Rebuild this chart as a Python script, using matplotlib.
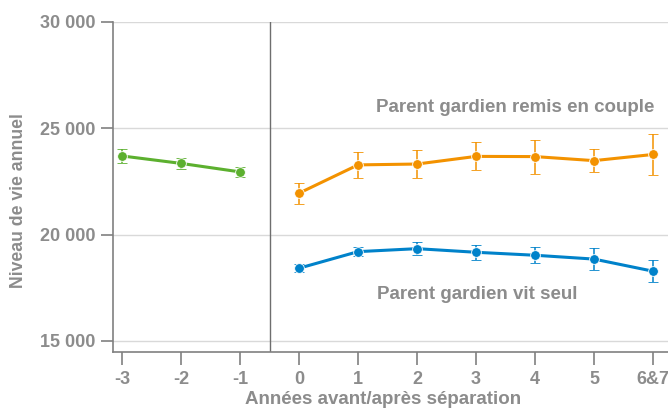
import matplotlib
matplotlib.use('Agg')
from matplotlib import pyplot
import numpy

pyplot.rcParams['font.family'] = ['Liberation Sans', 'DejaVu Sans']
pyplot.rcParams['font.weight'] = 'bold'

# categories de l'axe x
labels = ['-3', '-2', '-1', '0', '1', '2', '3', '4', '5', '6&7']

# avant séparation
avant_val = [23700, 23350, 22950]
avant_err = [330, 270, 230]

# parent gardien remis en couple
couple_val = [21950, 23280, 23320, 23680, 23670, 23480, 23770]
couple_err = [500, 600, 640, 660, 800, 550, 950]

# parent gardien vit seul
seul_val = [18420, 19200, 19340, 19170, 19030, 18850, 18280]
seul_err = [190, 200, 290, 340, 380, 500, 530]

gris = '#8c8c8c'
vert = '#5cb02f'
orange = '#f39200'
bleu = '#0082ca'

fig = pyplot.figure(figsize=(6.68, 4.09), dpi=100)
ax = fig.add_axes([113/668, 1-352/409, 1-113/668, (352-22)/409])

x = numpy.arange(len(labels))
x_avant = x[:3]
x_apres = x[3:]

for xs, vals, errs, c in [(x_avant, avant_val, avant_err, vert),
                          (x_apres, couple_val, couple_err, orange),
                          (x_apres, seul_val, seul_err, bleu)]:
    ax.errorbar(xs, vals, yerr=errs, color=c, lw=2.2, marker='o', ms=7,
                mec='white', mew=0.6, elinewidth=1.1, capsize=3.5, capthick=1.1,
                zorder=3)

# séparation avant/après
ax.axvline(2.5, color='#6e6e6e', lw=1, zorder=2)

ax.set_xlim(-0.153, 9.254)
ax.set_ylim(14480, 30000)
ax.set_yticks([15000, 20000, 25000, 30000])
ax.set_yticklabels(['15 000', '20 000', '25 000', '30 000'])
ax.set_xticks(x)
ax.set_xticklabels(labels)

ax.grid(axis='y', color='#d9d9d9', lw=1, zorder=0)
ax.set_axisbelow(True)
for s in ['top', 'right']:
    ax.spines[s].set_visible(False)
for s in ['left', 'bottom']:
    ax.spines[s].set_color('#808080')
    ax.spines[s].set_linewidth(1.2)
ax.tick_params(colors='#808080', length=9, width=1.2, labelcolor=gris, labelsize=13)
ax.tick_params(axis='x', pad=5)

ax.set_ylabel('Niveau de vie annuel', color=gris, fontsize=12.7, fontweight='bold')
ax.yaxis.set_label_coords(-0.155, 0.46)
ax.set_xlabel('Années avant/après séparation', color=gris, fontsize=13.5, fontweight='bold')
ax.xaxis.set_label_coords(0.486, -0.118)

ax.text(6.67, 25790, 'Parent gardien remis en couple', color=gris, fontsize=13.5,
        fontweight='bold', ha='center', va='baseline')
ax.text(6.025, 16975, 'Parent gardien vit seul', color=gris, fontsize=13.5,
        fontweight='bold', ha='center', va='baseline')

fig.savefig('out.png', dpi=100)
